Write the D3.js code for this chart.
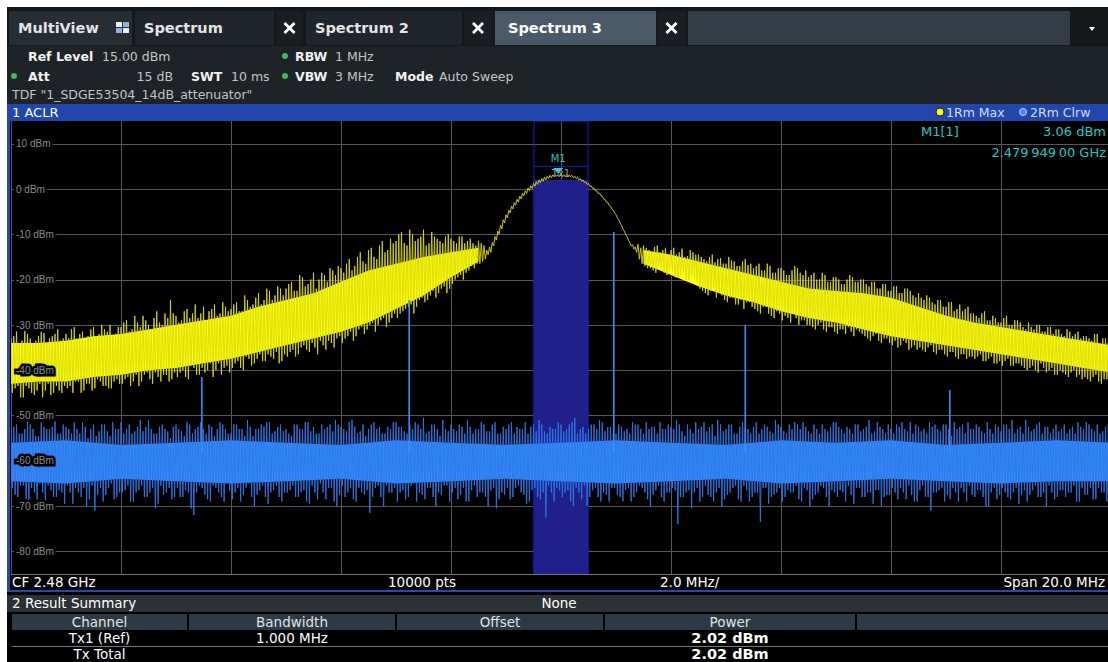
<!DOCTYPE html>
<meta charset="utf-8">
<style>
    body { margin: 0; background: #fff; }
    svg { display: block; font-family: "DejaVu Sans", Verdana, sans-serif; }
    .lbl { font-weight: bold; fill: #f2f2f2; }
    .val { fill: #c4c4c4; }
    .ylab text { font-size: 10px; fill: #8c8c8c; stroke: #000; stroke-width: 5px; paint-order: stroke; }
</style>
<svg width="1108" height="662"></svg>
<script src="https://cdn.jsdelivr.net/npm/d3@7"></script>
<script>

    // ---- sweep setup
    var spanMHz = [-10, 10];
    var refLevel = 15, bottomLevel = -85;
    var levelTicks = [10, 0, -10, -20, -30, -40, -50, -60, -70, -80];
    var freqGrid = [-10, -8, -6, -4, -2, 0, 2, 4, 6, 8, 10];
    var stepMHz = 0.1; // bins at -10.0, -9.9 ... ; the *Mid arrays hold the bins half a step later

    // ---- trace 1 (1Rm Max, yellow): bin maxima / minima in dBm
    var maxHi = [
        -33, -31.5, -33.5, -32, -34, -32.5, -31.8, -33, -32, -33.5,
        -32, -31, -33, -31.5, -32.5, -30.5, -32, -31, -30, -32,
        -30.5, -29, -31, -29.5, -28, -30, -28.5, -29.5, -27.5, -24.5,
        -28, -29, -26.5, -27.5, -28.5, -26, -27, -25.5, -27.5, -26,
        -26.5, -25, -27, -24.5, -25.5, -23, -24.5, -22.5, -23.5, -22,
        -22, -20.5, -22.5, -19.5, -21, -18.5, -20, -19, -17.5, -19,
        -17.5, -16.5, -18, -15, -16, -13.5, -15, -12.5, -14, -11,
        -11.5, -9.5, -12.5, -10, -11, -9, -12, -10.5, -11.5, -10.5,
        -11, -12, -10.5, -11.5, -12, -11.5,
        -12.5, -12.8, -10.5, -8.0, -5.7, -3.8, -2.3, -0.9, 0.2, 1.2, 2.0, 2.6, 3.0, 3.1,
        3.1, 3.1, 3.0, 2.6, 2.0, 1.2, 0.2, -0.9, -2.3, -3.8, -5.7, -8.0, -10.5, -12.3, -12.2,
        -12.5, -13.5, -12.8, -14, -13, -13.5, -14.5, -13.2, -14.8, -14,
        -14.5, -15.5, -15, -16.2, -15.3, -16.5, -15.8, -17, -16, -16.8,
        -17.5, -16.5, -18, -17, -18.5, -17.5, -19, -18, -17.5, -19,
        -19.5, -18.5, -20, -19, -20.5, -19.5, -21, -20, -19.5, -20.5,
        -20, -21.5, -20.5, -22, -21, -22.5, -21.5, -23, -22, -23.5,
        -23, -24.5, -24, -25.5, -24.5, -26, -25, -26.5, -27, -26,
        -27.5, -28.5, -27, -29, -28.5, -29.5, -28, -30, -29, -30.5,
        -29.5, -31, -30, -31.5, -30.5, -31, -32, -31, -32.5, -31.5,
        -32.5, -33, -32, -34, -33, -33.5
    ];
    var maxLo = [
        -45, -43.5, -46, -44, -45.5, -43, -44.5, -45.5, -43.5, -45,
        -44, -45, -42.5, -44.5, -43, -44, -42.5, -43.5, -44, -42,
        -43, -41.5, -42.5, -43.5, -41, -42, -40.5, -42.5, -41, -42,
        -41.5, -40, -42, -39.5, -41, -40.5, -38.5, -40, -41, -39,
        -39.5, -38, -40, -37.5, -38.5, -36.5, -38, -37, -36, -38,
        -37, -35.5, -36.5, -34.5, -36, -35, -33.5, -35.5, -34, -33,
        -34, -32.5, -33.5, -31, -32, -30, -31.5, -29, -30.5, -28.5,
        -28.5, -27, -26, -27.5, -24.5, -25, -23.5, -24, -22, -23,
        -21, -19.5, -20, -18, -17.5, -16.5,
        -15.5, -14, -11.3, -8.8, -6.4, -4.4, -2.9, -1.5, -0.4, 0.6, 1.4, 2.0, 2.5, 2.8,
        2.8, 2.8, 2.5, 2.0, 1.4, 0.6, -0.4, -1.5, -2.9, -4.4, -6.4, -8.8, -11.3, -13.3, -15.5,
        -17, -17.5, -18.5, -17.5, -19, -18, -19.5, -18.5, -20, -19.5,
        -22, -23, -22.5, -24, -23.5, -25, -24, -25.5, -26.5, -25,
        -26.5, -27.5, -26, -28, -27, -29, -28.5, -27.5, -30, -29,
        -30, -31, -29.5, -31.5, -30.5, -32, -31, -30.5, -32.5, -31.5,
        -32.5, -33.5, -32, -34, -33, -34.5, -35, -33.5, -35.5, -34.5,
        -35, -36, -34.5, -36.5, -35.5, -37, -36, -37.5, -36.5, -37,
        -37.5, -36.5, -38, -37, -38.5, -39, -37.5, -39, -38.5, -39.5,
        -39.5, -40, -38.5, -40.5, -39.5, -41, -40.5, -41.5, -40, -41,
        -41.5, -42.5, -41, -43, -42, -42.5
    ];
    var maxHiMid = [
        -32.5, -34, -31, -33, -33.5, -31.5, -34, -32.5, -31, -33,
        -33, -30.5, -32, -33.5, -31, -32.5, -30, -31.5, -32.5, -30.5,
        -29.5, -31.5, -28, -30.5, -29, -31, -27, -30, -28.5, -27.5,
        -29.5, -27, -28.5, -25.5, -27.5, -29, -26.5, -28, -25, -27,
        -25.5, -27, -23.5, -26, -24, -25.5, -22, -24.5, -21.5, -23.5,
        -21, -22.5, -19, -21.5, -20, -22, -18.5, -20.5, -18, -17,
        -18.5, -15.5, -17, -14, -16.5, -13, -15.5, -11.5, -13.5, -12,
        -10, -12, -9, -11.5, -10.5, -12.5, -9.5, -11, -12, -10,
        -11.5, -10.5, -12, -11, -12.5,
        -12, -13.5, -11.8, -9.3, -6.8, -4.7, -3.0, -1.6, -0.4, 0.7, 1.6, 2.3, 2.8, 3.1, 3.15,
        3.1, 3.05, 2.8, 2.3, 1.6, 0.7, -0.4, -1.6, -3.0, -4.7, -6.8, -9.3, -11.8, -12.8, -13,
        -13, -14, -12.5, -13.5, -14.5, -13, -14, -15, -13.5, -14.5,
        -15, -16, -14.5, -15.5, -16.5, -15, -16, -17, -15.5, -16.5,
        -17, -18, -16.5, -18.5, -17.5, -18, -19, -17, -18.5, -18,
        -19, -20, -18.5, -20.5, -19.5, -20, -21, -19, -20.5, -20,
        -21, -20.5, -22, -21, -22.5, -21.5, -23, -22, -22.5, -24,
        -24, -23.5, -25, -24.5, -26, -25, -27, -25.5, -26.5, -27.5,
        -28, -27.5, -29, -28, -29.5, -28.5, -30, -29, -29.5, -31,
        -30.5, -30, -31.5, -30.5, -32, -31, -32.5, -31.5, -32, -33,
        -32.5, -33.5, -32, -33, -34
    ];
    var maxLoMid = [
        -44, -46, -43.5, -45, -44.5, -46, -43, -45, -44.5, -43.5,
        -43.5, -42.5, -45, -43, -44.5, -42, -43.5, -44, -42.5, -43,
        -42, -43.5, -41, -42.5, -40.5, -43, -41.5, -41, -42.5, -40.5,
        -40.5, -41.5, -39, -41, -39.5, -40, -41.5, -38.5, -39.5, -40.5,
        -38.5, -39.5, -37, -39, -37.5, -38, -36.5, -37.5, -38.5, -36.5,
        -36, -37, -35, -35.5, -34, -36.5, -34.5, -33.5, -35, -32.5,
        -33, -31.5, -32.5, -30.5, -31, -29.5, -30, -28.5, -29.5, -27.5,
        -27.5, -26.5, -25.5, -26, -24, -24.5, -22.5, -23, -21.5, -22,
        -20, -19, -18.5, -17, -16.5,
        -16, -14.5, -12.6, -10, -7.5, -5.3, -3.6, -2.2, -1.0, 0.1, 1.0, 1.7, 2.3, 2.7, 2.8,
        2.8, 2.7, 2.3, 1.7, 1.0, 0.1, -1.0, -2.2, -3.6, -5.3, -7.5, -10, -12.6, -14, -16.5,
        -17.5, -18, -17, -18.5, -18, -19.5, -19, -20, -19, -20.5,
        -22.5, -23.5, -22, -23, -24.5, -24, -25.5, -24.5, -25, -26,
        -27, -26, -27.5, -28.5, -27.5, -28, -29.5, -28.5, -29, -30,
        -30.5, -30, -31, -30.5, -31.5, -31, -32, -31.5, -31, -32,
        -33, -32.5, -33.5, -33, -34, -33.5, -34.5, -34, -35, -35.5,
        -35.5, -35, -36, -35.5, -36.5, -36, -37, -36.5, -37.5, -37,
        -37, -38, -37.5, -38.5, -38, -38, -39, -38.5, -39, -40,
        -39, -40.5, -39.5, -40, -41, -40, -41, -40.5, -41.5, -42,
        -42, -41.5, -42.5, -42, -43
    ];
    // dense part of the max-hold band, either side of the carrier
    var maxCoreFreq = [-10, -9.5, -9, -8.5, -8, -7.5, -7, -6.5, -6, -5.5, -5, -4.5, -4, -3.5, -3, -2.5, -2, -1.5,
        1.5, 2, 2.5, 3, 3.5, 4, 4.5, 5, 5.5, 6, 6.5, 7, 7.5, 8, 8.5, 9, 9.5, 10];
    var maxCoreTop = [-34, -34, -33.5, -32.5, -32, -31, -30, -29, -28, -26, -24.5, -23, -20.5, -18, -16.5, -15, -14, -13,
        -13.5, -14.5, -16, -17.5, -19, -20.5, -22, -22.5, -23, -24, -26, -28, -29.5, -30.5, -31.5, -32.5, -33.5, -34.5];
    var maxCoreBot = [-43, -42.5, -42.5, -41.5, -41, -40, -39.5, -38.5, -37.5, -36, -34.5, -33, -31.5, -29.5, -26.5, -23.5, -19.5, -16,
        -16.5, -19, -21.5, -23.5, -25, -27, -28.5, -29.5, -31, -32.5, -33.5, -34.5, -35.5, -36.5, -37.5, -38.5, -39.5, -40.5];

    // ---- trace 2 (2Rm Clrw, blue)
    var clrHi = [
        -53.5, -52, -54, -51.5, -53, -54.5, -52.5, -53, -51, -54,
        -52.5, -54, -53, -51.5, -55, -52, -53.5, -52, -54.5, -53,
        -51.5, -53, -54, -52.5, -53.5, -51, -54, -52.5, -53, -55,
        -52, -53.5, -51.5, -54, -52.5, -53, -52, -54.5, -51.5, -53,
        -54, -52, -53, -51, -54.5, -53, -52.5, -51.5, -53.5, -52,
        -53, -54.5, -52, -53, -51.5, -52.5, -54, -53, -52, -51,
        -52.5, -53.5, -51, -54, -52, -53, -51.5, -52.5, -54, -53,
        -51.5, -52.5, -54, -53, -52, -50.5, -53.5, -52, -54.5, -53,
        -52, -53.5, -52.5, -51, -54, -53, -52, -53.5, -51.5, -54,
        -53, -51.5, -52.5, -53, -54, -52, -51, -53.5, -52.5, -53,
        -52, -53, -51.5, -54, -52.5, -53, -52, -51, -53.5, -52.5,
        -54, -52.5, -53, -51.5, -52, -54, -53, -52.5, -51.5, -53,
        -52.5, -51, -53.5, -52, -54, -53, -51.5, -52.5, -54.5, -52,
        -53, -52, -54, -51.5, -53, -52.5, -54, -52, -53.5, -51,
        -52.5, -54, -53, -52, -51.5, -53.5, -52, -54, -53, -52.5,
        -51.5, -53, -52.5, -54, -52, -53, -51, -53.5, -52.5, -54,
        -53, -52, -51.5, -53.5, -54, -52.5, -53, -51.5, -52, -53.5,
        -52, -54.5, -53, -52, -51.5, -53, -52.5, -54, -53, -52,
        -53.5, -52, -51, -53, -54, -52.5, -53, -51.5, -52.5, -54,
        -52, -53, -54, -52.5, -51.5, -53, -52, -53.5, -54, -52.5,
        -53
    ];
    var clrLo = [
        -66, -68, -65.5, -69, -67, -65, -70, -66.5, -68, -67,
        -65.5, -69.5, -67, -66, -68.5, -71, -66, -67.5, -65, -68,
        -67, -65.5, -69, -66.5, -68, -67, -70.5, -65.5, -67, -68.5,
        -66, -68, -67, -72, -65.5, -67.5, -69, -66, -68, -65,
        -68.5, -66, -67.5, -65, -70, -66.5, -68, -67, -65.5, -69,
        -67, -65.5, -68, -66.5, -69.5, -67, -65, -68.5, -66, -70,
        -65.5, -67, -68.5, -66, -67.5, -71.5, -66, -68, -65.5, -67,
        -69, -66.5, -68, -65, -67, -68.5, -66, -70, -67.5, -65.5,
        -67, -68.5, -66, -69, -65.5, -67, -68, -66.5, -70.5, -67,
        -66, -68, -65.5, -67.5, -69, -66, -68.5, -72.5, -67, -66,
        -68, -66.5, -70, -67, -65.5, -68, -66, -69, -67.5, -66,
        -67.5, -69, -66, -68, -65.5, -67, -70, -66.5, -68, -67,
        -66, -74, -68, -66.5, -67, -69, -65.5, -68, -67, -70,
        -67.5, -66, -68.5, -65.5, -69, -67, -73.5, -66, -68, -67,
        -69, -66.5, -67, -68.5, -66, -70, -67.5, -65.5, -68, -66.5,
        -68, -67, -65.5, -69.5, -66, -68, -67, -66.5, -70, -67.5,
        -66, -68.5, -67, -65.5, -69, -66.5, -68, -71, -67, -66,
        -67.5, -66, -69, -67, -65.5, -68, -66.5, -70, -67, -68.5,
        -66, -68, -67, -69.5, -66.5, -67.5, -65.5, -68, -70, -67,
        -68, -66.5, -67, -65.5, -69, -67.5, -66, -68.5, -67, -69,
        -67
    ];
    var clrHiMid = [
        -52.5, -54, -53, -52, -54.5, -51.5, -53, -52.5, -54, -52,
        -53, -51.5, -54, -52.5, -53, -54.5, -52, -53.5, -51.5, -53,
        -54, -52, -53.5, -51, -52.5, -53, -54, -52, -53.5, -52.5,
        -53, -54.5, -52, -53, -51.5, -54, -52.5, -53, -52, -54,
        -52, -53, -54.5, -52.5, -53, -52, -51.5, -54, -52.5, -53.5,
        -54, -52, -53, -51.5, -53.5, -54, -52, -52.5, -53.5, -52,
        -53, -51.5, -52.5, -53.5, -54.5, -52, -53, -54, -52.5, -51.5,
        -52.5, -53.5, -52, -51.5, -53, -54, -52, -53, -51, -53.5,
        -53, -52, -54, -52.5, -53, -51.5, -53.5, -52, -54, -52.5,
        -52, -54, -53, -51.5, -52.5, -53.5, -52, -54, -53, -51.5,
        -53.5, -52, -50.5, -53, -54, -52, -53, -51.5, -52.5, -54,
        -52, -53.5, -54, -52, -53, -51.5, -52.5, -54, -53, -52,
        -53, -52, -54.5, -53, -51.5, -52.5, -53.5, -52, -51, -53.5,
        -52, -54, -52.5, -53, -54, -51.5, -53, -52.5, -54, -52,
        -53.5, -52, -51.5, -53, -52.5, -54, -53, -52, -53.5, -51.5,
        -52.5, -54, -53, -52, -53.5, -52.5, -54, -51.5, -53, -52,
        -54, -52.5, -53, -51.5, -52, -53.5, -54, -52.5, -53, -52,
        -53, -51.5, -52.5, -54, -53, -52, -53.5, -51.5, -54, -52.5,
        -52, -53, -54, -52.5, -51, -53.5, -52, -54, -52.5, -53,
        -53.5, -52, -53, -54, -52.5, -51.5, -53, -52, -53.5, -52
    ];
    var clrLoMid = [
        -67.5, -65.5, -68.5, -66, -69, -67, -65.5, -68, -66.5, -69.5,
        -67, -66, -68, -70, -65.5, -67.5, -69, -66, -68.5, -67,
        -66.5, -69, -67, -65.5, -68, -66, -69.5, -67.5, -66, -68,
        -68, -66.5, -70.5, -67, -66, -68.5, -65.5, -67, -69, -66.5,
        -67, -69, -66, -68, -67.5, -65.5, -69.5, -66.5, -68, -67,
        -66.5, -68, -67, -69, -65.5, -68.5, -67, -66, -69, -67.5,
        -68, -66, -69, -67, -66.5, -68, -65.5, -70, -67, -66,
        -67, -68.5, -65.5, -69, -67.5, -66, -68, -67, -65.5, -69,
        -66, -67.5, -69, -66.5, -68, -67, -70, -66, -68.5, -67.5,
        -68.5, -66, -67, -69.5, -66.5, -68, -67, -65.5, -69, -66.5,
        -67, -69, -66, -68.5, -70, -66.5, -68, -67, -69, -66,
        -68, -66.5, -69, -67, -66, -68.5, -67.5, -65.5, -69, -67,
        -66.5, -68, -67, -70.5, -66, -68, -67.5, -69, -66, -68.5,
        -67, -65.5, -69, -66.5, -68, -67, -66, -69.5, -67.5, -66,
        -68, -67, -65.5, -69, -66.5, -68.5, -67, -66, -70, -67,
        -66.5, -69, -67.5, -66, -68, -67, -69.5, -66.5, -68, -67.5,
        -67, -66, -68.5, -67.5, -69, -65.5, -68, -67, -66.5, -69,
        -68.5, -67, -66, -69, -67.5, -66.5, -68, -70, -66, -67.5,
        -67, -68.5, -66, -67.5, -69, -66.5, -68, -67, -65.5, -68.5,
        -66.5, -68, -67, -69, -66, -67.5, -68.5, -66, -67, -68
    ];
    var clrCoreFreq = [-10, -9, -8, -7, -6, -5, -4, -3, -2, -1, 0, 1, 2, 3, 4, 5, 6, 7, 8, 9, 10];
    var clrCoreTop = [-56, -55.5, -56.5, -56, -55.5, -56, -56.5, -55.5, -56, -56.5, -56, -55.5, -56, -56.5, -55.5, -56, -55.5, -56.5, -56, -55.5, -56];
    var clrCoreBot = [-64.5, -65, -64, -64.5, -65, -64.5, -64, -65, -64.5, -64, -64.5, -65, -64.5, -64, -65, -64.5, -64, -64.5, -65, -64.5, -64.5];
    // discrete spurs on trace 2
    var spurFreq = [-6.53, -2.76, 0.96, 3.35, 7.07];
    var spurLevel = [-41.5, -24.5, -9.5, -30, -44.4];

    // ---- channel / marker / results
    var chanCenter = 0, chanBW = 1.0, chanPower = 2.02;
    var markerFreq = -0.051, markerLevel = 3.06;
    var summaryHeaders = ["Channel", "Bandwidth", "Offset", "Power", ""];
    var summaryRows = [["Tx1 (Ref)", "1.000 MHz", "", "2.02 dBm"], ["Tx Total", "", "", "2.02 dBm"]];
    var tabNames = ["MultiView", "Spectrum", "Spectrum 2", "Spectrum 3"];

    var svg = d3.select("svg");
    var plot = {left: 11, right: 1111, top: 121, bottom: 574};

    var x = d3.scaleLinear().domain(spanMHz).range([plot.left, plot.right]);
    var y = d3.scaleLinear().domain([refLevel, bottomLevel]).range([plot.top, plot.bottom]);

    svg.append("rect").attr("width", 1108).attr("height", 662).attr("fill", "#fff");

    // ---- tab bar
    var tabs = svg.append("g");
    tabs.append("rect").attr("x", 7).attr("y", 7).attr("width", 1101).attr("height", 39).attr("fill", "#14181b");
    var tabBox = [[9, 132], [135, 274], [306, 462], [495, 656]];
    var closeBox = [[276, 303], [464, 492], [657, 686]];
    tabBox.forEach(function (b, i) {
        tabs.append("rect").attr("x", b[0]).attr("y", 11).attr("width", b[1] - b[0]).attr("height", 34)
            .attr("fill", i === 3 ? "#4a5967" : (i === 0 ? "#262d33" : "#1f252a"));
        tabs.append("text").attr("x", b[0] + (i === 3 ? 13 : 9)).attr("y", 33)
            .attr("font-size", "14.5px").attr("font-weight", "bold").attr("fill", i === 3 ? "#ffffff" : "#e4e4e4")
            .text(tabNames[i]);
    });
    closeBox.forEach(function (b) {
        tabs.append("rect").attr("x", b[0]).attr("y", 11).attr("width", b[1] - b[0]).attr("height", 34).attr("fill", "#1a1e22");
        var cx = (b[0] + b[1]) / 2, cy = 28;
        tabs.append("path").attr("d", "M" + (cx - 5) + "," + (cy - 5) + "L" + (cx + 5) + "," + (cy + 5) + "M" + (cx + 5) + "," + (cy - 5) + "L" + (cx - 5) + "," + (cy + 5))
            .attr("stroke", "#fff").attr("stroke-width", 2.8);
    });
    tabs.append("rect").attr("x", 688).attr("y", 11).attr("width", 382).attr("height", 34).attr("fill", "#323c46");
    tabs.append("path").attr("d", "M1089,27L1095,27L1092,31Z").attr("fill", "#fff");
    // multiview icon
    [[116, 22, "#e8eef4"], [123, 22, "#8ab4de"], [116, 28, "#8ab4de"], [123, 28, "#e8eef4"]].forEach(function (s) {
        tabs.append("rect").attr("x", s[0]).attr("y", s[1]).attr("width", 6).attr("height", 5).attr("fill", s[2]);
    });

    // ---- settings panel
    var info = svg.append("g").attr("font-size", "12.5px");
    info.append("rect").attr("x", 7).attr("y", 46).attr("width", 1101).attr("height", 58).attr("fill", "#1e2328");
    function t(g, xx, yy, cls, s, anchor) {
        return g.append("text").attr("x", xx).attr("y", yy).attr("class", cls).attr("text-anchor", anchor || "start").text(s);
    }
    t(info, 28, 61, "lbl", "Ref Level"); t(info, 102, 61, "val", "15.00 dBm");
    t(info, 295, 61, "lbl", "RBW"); t(info, 335, 61, "val", "1 MHz");
    t(info, 28, 81, "lbl", "Att"); t(info, 173, 81, "val", "15 dB", "end");
    t(info, 191, 81, "lbl", "SWT"); t(info, 231, 81, "val", "10 ms");
    t(info, 295, 81, "lbl", "VBW"); t(info, 335, 81, "val", "3 MHz");
    t(info, 395, 81, "lbl", "Mode"); t(info, 439, 81, "val", "Auto Sweep");
    t(info, 12, 99, "val", "TDF \"1_SDGE53504_14dB_attenuator\"").attr("fill", "#dcdcdc");
    [[285, 56], [14, 76], [285, 76]].forEach(function (p) {
        info.append("circle").attr("cx", p[0]).attr("cy", p[1]).attr("r", 3).attr("fill", "#43b95a");
    });

    // ---- window title bar
    svg.append("rect").attr("x", 7).attr("y", 104).attr("width", 1101).attr("height", 17).attr("fill", "#2146ad");
    svg.append("text").attr("x", 12).attr("y", 117).attr("font-size", "13px").attr("fill", "#fff").text("1 ACLR");
    svg.append("circle").attr("cx", 940).attr("cy", 112).attr("r", 4).attr("fill", "#ffff00").attr("stroke", "#222").attr("stroke-width", 1);
    svg.append("text").attr("x", 946).attr("y", 117).attr("font-size", "12.5px").attr("fill", "#d4dcf2").text("1Rm Max");
    svg.append("circle").attr("cx", 1023).attr("cy", 112).attr("r", 3.5).attr("fill", "#3a8cff").attr("stroke", "#c9d6f2").attr("stroke-width", 1);
    svg.append("text").attr("x", 1030).attr("y", 117).attr("font-size", "12.5px").attr("fill", "#d4dcf2").text("2Rm Clrw");

    // ---- plot area
    svg.append("rect").attr("x", 7).attr("y", 121).attr("width", 1101).attr("height", 541).attr("fill", "#000");
    svg.append("defs").append("clipPath").attr("id", "clip")
        .append("rect").attr("x", plot.left).attr("y", plot.top).attr("width", plot.right - plot.left).attr("height", plot.bottom - plot.top);

    var grid = svg.append("g").attr("stroke", "#585858").attr("stroke-width", 1);
    grid.selectAll(".h").data(levelTicks).enter().append("line")
        .attr("x1", plot.left).attr("x2", plot.right)
        .attr("y1", function (d) { return Math.round(y(d)) + 0.5; }).attr("y2", function (d) { return Math.round(y(d)) + 0.5; });
    grid.selectAll(".v").data(freqGrid).enter().append("line")
        .attr("y1", plot.top).attr("y2", plot.bottom)
        .attr("x1", function (d) { return Math.round(x(d)) + 0.5; }).attr("x2", function (d) { return Math.round(x(d)) + 0.5; });
    svg.append("line").attr("x1", plot.left).attr("x2", 1108).attr("y1", plot.bottom + 0.5).attr("y2", plot.bottom + 0.5)
        .attr("stroke", "#777");

    var area = svg.append("g").attr("clip-path", "url(#clip)");

    // channel bar
    var cx0 = x(chanCenter - chanBW / 2), cx1 = x(chanCenter + chanBW / 2);
    area.append("rect").attr("x", cx0).attr("y", y(chanPower)).attr("width", cx1 - cx0).attr("height", plot.bottom - y(chanPower))
        .attr("fill", "#1f2089");
    area.append("rect").attr("x", cx0 + 0.5).attr("y", plot.top).attr("width", cx1 - cx0 - 1).attr("height", plot.bottom - plot.top)
        .attr("fill", "none").attr("stroke", "#1a1ad0");
    area.append("line").attr("x1", cx0).attr("x2", cx1).attr("y1", y(chanPower) - 13.5).attr("y2", y(chanPower) - 13.5)
        .attr("stroke", "#1a1ad0");

    // merge the two bin series into one, in frequency order
    function bins(hi, lo, hiMid, loMid) {
        var out = [];
        hi.forEach(function (h, i) {
            var f = spanMHz[0] + i * stepMHz;
            out.push([f, h, lo[i]]);
            if (i < hiMid.length) out.push([f + stepMHz / 2, hiMid[i], loMid[i]]);
        });
        return out;
    }
    // each bin: max then min, like the analyzer's detector display
    function zigzag(b) {
        var pts = [];
        b.forEach(function (d) {
            pts.push([x(d[0]), y(d[1])]);
            pts.push([x(d[0] + stepMHz / 4), y(d[2])]);
        });
        return pts;
    }
    var band = d3.area()
        .x(function (d) { return x(d[0]); })
        .y0(function (d) { return y(d[2]); })
        .y1(function (d) { return y(d[1]); });
    var line = d3.line();

    // trace 1
    var core1 = maxCoreFreq.map(function (f, i) { return [f, maxCoreTop[i], maxCoreBot[i]]; });
    [core1.filter(function (d) { return d[0] < 0; }), core1.filter(function (d) { return d[0] > 0; })].forEach(function (seg) {
        area.append("path").attr("d", band(seg)).attr("fill", "#ffff14");
    });
    area.append("path").attr("d", line(zigzag(bins(maxHi, maxLo, maxHiMid, maxLoMid)))).attr("fill", "none")
        .attr("stroke", "#dada0a").attr("stroke-width", 0.9);

    // trace 2
    var core2 = clrCoreFreq.map(function (f, i) { return [f, clrCoreTop[i], clrCoreBot[i]]; });
    area.append("path").attr("d", band(core2)).attr("fill", "#388cff");
    area.append("path").attr("d", line(zigzag(bins(clrHi, clrLo, clrHiMid, clrLoMid)))).attr("fill", "none")
        .attr("stroke", "#2c78e8").attr("stroke-width", 0.9);
    area.selectAll(".spur").data(spurFreq).enter().append("line")
        .attr("x1", function (d) { return x(d); }).attr("x2", function (d) { return x(d); })
        .attr("y1", function (d, i) { return y(spurLevel[i]); }).attr("y2", y(-58))
        .attr("stroke", "#3a8cff").attr("stroke-width", 1.6);

    // level labels
    svg.append("g").attr("class", "ylab").attr("transform", "translate(" + plot.left + ",0)")
        .call(d3.axisRight(y).tickValues(levelTicks).tickSize(0).tickPadding(5)
            .tickFormat(function (d) { return d + " dBm"; }))
        .call(function (g) { g.select(".domain").remove(); });

    // marker
    var mx = x(markerFreq), my = y(markerLevel);
    svg.append("path").attr("d", "M" + (mx - 5) + "," + (my - 7) + "L" + (mx + 5) + "," + (my - 7) + "L" + mx + "," + (my - 1) + "Z")
        .attr("fill", "#21d0d0");
    svg.append("text").attr("x", mx).attr("y", my - 13).attr("text-anchor", "middle").attr("font-size", "10px").attr("fill", "#21c4c4").text("M1");
    svg.append("text").attr("x", x(chanCenter)).attr("y", y(chanPower) - 3).attr("text-anchor", "middle").attr("font-size", "10px")
        .attr("fill", "#9a9a9a").text("Tx1");
    var mk = svg.append("g").attr("font-size", "13px").attr("fill", "#22c8c8");
    mk.append("text").attr("x", 921).attr("y", 136).text("M1[1]");
    mk.append("text").attr("x", 1106).attr("y", 136).attr("text-anchor", "end").text(markerLevel.toFixed(2) + " dBm");
    mk.append("text").attr("x", 1106).attr("y", 157).attr("text-anchor", "end").text("2.479\u2009949\u200900 GHz");

    // left window border
    svg.append("rect").attr("x", 7).attr("y", 104).attr("width", 3).attr("height", 488).attr("fill", "#2848b0");

    // footer of the diagram
    var ft = svg.append("g").attr("font-size", "13.5px").attr("fill", "#fff");
    ft.append("text").attr("x", 12).attr("y", 587).text("CF 2.48 GHz");
    ft.append("text").attr("x", 388).attr("y", 587).text("10000 pts");
    ft.append("text").attr("x", 660).attr("y", 587).text("2.0 MHz/");
    ft.append("text").attr("x", 1105).attr("y", 587).attr("text-anchor", "end").text("Span 20.0 MHz");
    svg.append("rect").attr("x", 7).attr("y", 590).attr("width", 1101).attr("height", 2).attr("fill", "#2848b0");

    // ---- result summary
    svg.append("rect").attr("x", 7).attr("y", 592).attr("width", 1101).attr("height", 70).attr("fill", "#000");
    svg.append("rect").attr("x", 7).attr("y", 595).attr("width", 1101).attr("height", 17).attr("fill", "#2c3135");
    svg.append("text").attr("x", 12).attr("y", 608).attr("font-size", "13.5px").attr("fill", "#fff").text("2 Result Summary");
    svg.append("text").attr("x", 559).attr("y", 608).attr("font-size", "13.5px").attr("fill", "#fff").attr("text-anchor", "middle").text("None");

    var colEdges = [[12, 187], [189, 395], [397, 603], [605, 855], [857, 1108]];
    var tbl = svg.append("g").attr("font-size", "13.5px");
    colEdges.forEach(function (c, i) {
        tbl.append("rect").attr("x", c[0]).attr("y", 614).attr("width", c[1] - c[0]).attr("height", 16).attr("fill", "#2d3a45");
        tbl.append("text").attr("x", (c[0] + c[1]) / 2).attr("y", 627).attr("text-anchor", "middle").attr("fill", "#e2e2e2")
            .text(summaryHeaders[i]);
    });
    summaryRows.forEach(function (r, j) {
        r.forEach(function (s, i) {
            var c = colEdges[i];
            tbl.append("text").attr("x", (c[0] + c[1]) / 2).attr("y", 643 + j * 16).attr("text-anchor", "middle")
                .attr("fill", "#fff").attr("font-weight", i === 3 ? "bold" : "normal")
                .attr("font-size", i === 3 ? "14.5px" : "13.5px").text(s);
        });
    });
    tbl.append("line").attr("x1", 12).attr("x2", 1108).attr("y1", 646.5).attr("y2", 646.5).attr("stroke", "#7a7a7a");

</script>
